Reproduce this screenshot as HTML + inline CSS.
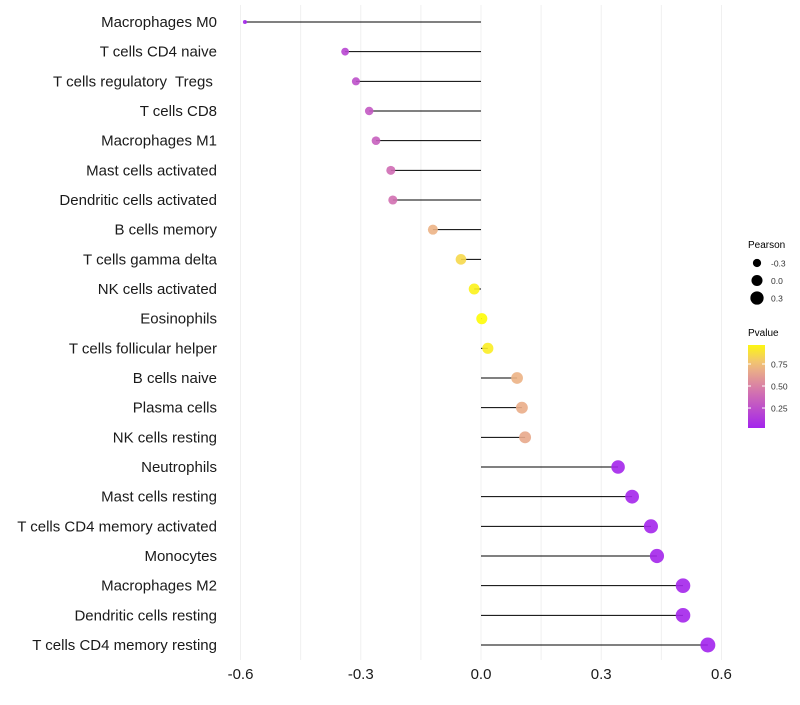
<!DOCTYPE html>
<html><head><meta charset="utf-8"><style>
body{margin:0;background:#fff;font-family:"Liberation Sans",sans-serif}
svg text{font-family:"Liberation Sans",sans-serif;white-space:pre}
</style></head><body>
<svg id="chart" width="800" height="700"></svg>
<script>
const categories=["Macrophages M0","T cells CD4 naive","T cells regulatory  Tregs ","T cells CD8","Macrophages M1","Mast cells activated","Dendritic cells activated","B cells memory","T cells gamma delta","NK cells activated","Eosinophils","T cells follicular helper","B cells naive","Plasma cells","NK cells resting","Neutrophils","Mast cells resting","T cells CD4 memory activated","Monocytes","Macrophages M2","Dendritic cells resting","T cells CD4 memory resting"];
const pearson=[-0.589,-0.339,-0.312,-0.279,-0.262,-0.225,-0.22,-0.12,-0.05,-0.017,0.002,0.017,0.09,0.102,0.11,0.342,0.377,0.424,0.439,0.504,0.504,0.566];
const pvalue=[0.03,0.2,0.25,0.3,0.33,0.4,0.42,0.7,0.85,0.95,0.99,0.93,0.7,0.68,0.66,0.03,0.03,0.03,0.03,0.03,0.03,0.02];
const xTicks=[-0.6,-0.3,0.0,0.3,0.6];
const xTickLabels=["-0.6","-0.3","0.0","0.3","0.6"];
const gridVals=[-0.6,-0.45,-0.3,-0.15,0,0.15,0.3,0.45,0.6];
const NS="http://www.w3.org/2000/svg";
const svg=document.getElementById('chart');
const X=v=>481+v*400.8;
const Y=i=>22+i*29.667;
const R=v=>Math.sqrt(Math.max(1,4+45*(v+0.59)));
function col(p){
  const stops=[[0,[160,32,240]],[0.45,[213,118,172]],[0.75,[240,190,125]],[1,[255,255,0]]];
  for(let k=0;k<stops.length-1;k++){const[a,ca]=stops[k],[b,cb]=stops[k+1];
    if(p<=b){const t=Math.max(0,(p-a)/(b-a));return `rgb(${ca.map((c,j)=>Math.round(c+(cb[j]-c)*t)).join(',')})`;}}
  return 'rgb(255,255,0)';
}
function el(t,a,parent){const e=document.createElementNS(NS,t);for(const k in a)e.setAttribute(k,a[k]);(parent||svg).appendChild(e);return e;}
gridVals.forEach(v=>{
  const g=el('line',{x1:X(v),x2:X(v),y1:5,y2:660,stroke:'#f0f0f0','stroke-width':1});
  
  
});
categories.forEach((c,i)=>{
  const t=el('text',{x:217,y:Y(i)+5,'text-anchor':'end','font-size':15,fill:'#1a1a1a'});
  t.textContent=c;
  
  
  const l=el('line',{x1:X(0),x2:X(pearson[i]),y1:Y(i),y2:Y(i),stroke:'#000','stroke-width':1});
  
  
  const p=el('circle',{cx:X(pearson[i]),cy:Y(i),r:R(pearson[i]),fill:col(pvalue[i]),'fill-opacity':0.9});
  
  
});
xTicks.forEach((v,i)=>{
  const t=el('text',{x:X(v),y:679,'text-anchor':'middle','font-size':15,fill:'#1a1a1a'});
  t.textContent=xTickLabels[i];
  
  
});
const lg=el('g',{});


let t=el('text',{x:748,y:248,'font-size':10,fill:'#000'},lg);t.textContent='Pearson';
const sizeVals=[-0.3,0,0.3],sizeLabels=["-0.3","0.0","0.3"];
sizeVals.forEach((v,i)=>{
  const cy=263+i*17.5;
  const c=el('circle',{cx:757,cy:cy,r:R(v),fill:'#000'},lg);
  
  
  const tt=el('text',{x:771,y:cy+3.5,'font-size':8.5,fill:'#333'},lg);tt.textContent=sizeLabels[i];
});
t=el('text',{x:748,y:336,'font-size':10,fill:'#000'},lg);t.textContent='Pvalue';
const defs=el('defs',{});
const gr=el('linearGradient',{id:'pg',x1:0,y1:1,x2:0,y2:0},defs);
for(let k=0;k<=10;k++){const p=0.023+k/10*(0.966-0.023);el('stop',{offset:k/10,'stop-color':col(p)},gr);}
const bar=el('rect',{x:748,y:345,width:17,height:83,fill:'url(#pg)'},lg);


[[0.75,"0.75"],[0.5,"0.50"],[0.25,"0.25"]].forEach(([v,s])=>{
  const y=428-(v-0.023)/(0.966-0.023)*83;
  el('line',{x1:748,x2:751,y1:y,y2:y,stroke:'#fff'},lg);
  el('line',{x1:762,x2:765,y1:y,y2:y,stroke:'#fff'},lg);
  const tt=el('text',{x:771,y:y+3.5,'font-size':8.5,fill:'#333'},lg);tt.textContent=s;
});
</script>
</body></html>
